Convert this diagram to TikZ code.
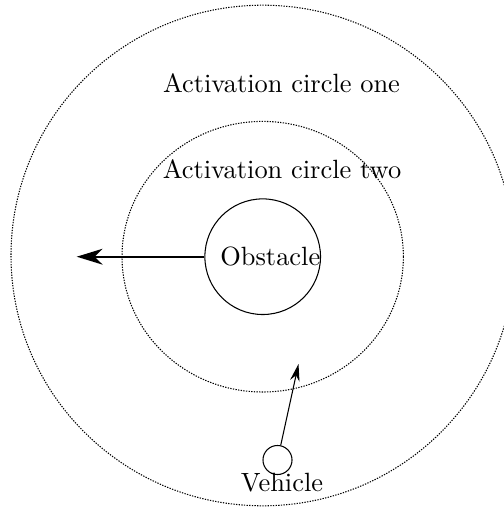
\documentclass[tikz,border=0pt]{standalone}
\usetikzlibrary{arrows.meta}
\begin{document}
\begin{tikzpicture}[x=0.3788pt,y=-0.3788pt,
  zone/.style={draw,dash pattern=on 0.5pt off 0.5pt,line width=0.4pt},
  ring/.style={draw,circle,line width=0.4pt,inner sep=0pt},
  lbl/.style={inner sep=0pt,anchor=base,font=\normalsize},
  bigarrow/.style={line width=0.8pt,-{Stealth[length=9.8pt,width=6pt,inset=3pt]}},
  smallarrow/.style={line width=0.4pt,-{Stealth[length=6.5pt,width=3.6pt]}}]
\useasboundingbox (0,0) rectangle (504,509);
\draw[zone] (262.7,255.5) ellipse [x radius=251.7, y radius=250.3];
\draw[zone] (262.7,256.7) ellipse [x radius=140.7, y radius=135.3];
\node[ring,minimum size=43.8pt] (obs) at (262.7,256.7) {};
\node[ring,minimum size=11pt] (veh) at (277.5,460) {};
\node[lbl] (one) at (281.5,92) {Activation circle one};
\node[lbl] (two) at (282,178.3) {Activation circle two};
\node[lbl] (obstxt) at (270.3,265) {Obstacle};
\node[lbl] (vehtxt) at (282,491.7) {Vehicle};
\coordinate (ltip) at (76.7,256.7);
\coordinate (vtip) at (298.5,364);
\draw[bigarrow] (obs) -- (ltip);
\draw[smallarrow] (veh) -- (vtip);
\end{tikzpicture}
\end{document}
